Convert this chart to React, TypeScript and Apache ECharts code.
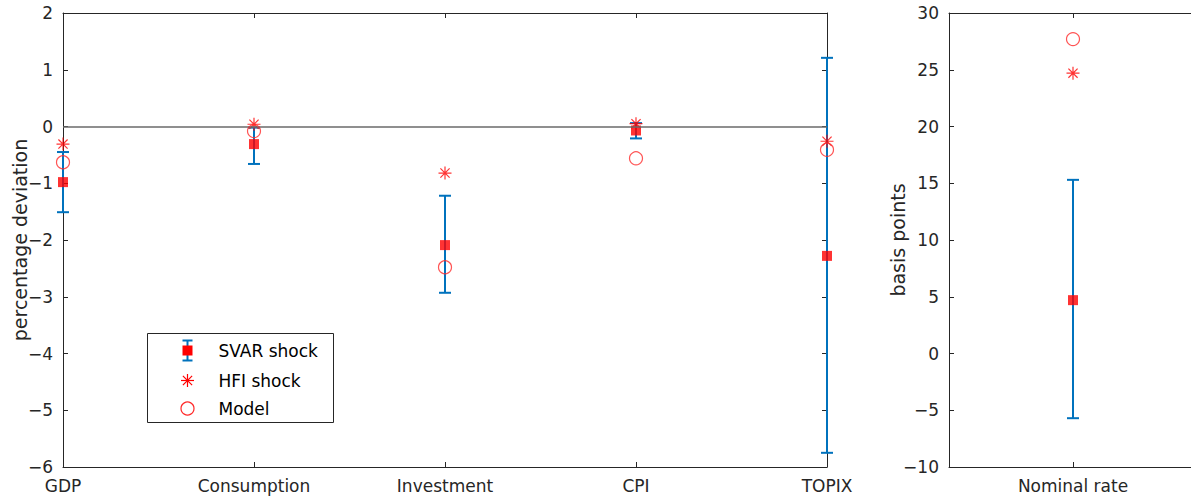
import React, { useEffect, useRef } from "react";
import * as echarts from "echarts";

const categories = ["GDP", "Consumption", "Investment", "CPI", "TOPIX"];
const svar = [-0.98, -0.31, -2.09, -0.07, -2.28];
const svarLow = [-1.51, -0.66, -2.93, -0.21, -5.75];
const svarHigh = [-0.45, -0.02, -1.22, 0.06, 1.21];
const hfi = [-0.31, 0.04, -0.82, 0.05, -0.26];
const model = [-0.63, -0.08, -2.48, -0.56, -0.41];

const rateCategories = ["Nominal rate"];
const rateSvar = [4.7];
const rateLow = [-5.7];
const rateHigh = [15.3];
const rateHfi = [24.7];
const rateModel = [27.7];

const FONT = "'DejaVu Sans', 'Noto Sans', sans-serif";
const AXIS = "#262626";
const BLUE = "#0072BD";
const RED = "#FF0000";
const STAR =
  "path://M0,-10L0,10M-10,0L10,0M-7.07,-7.07L7.07,7.07M-7.07,7.07L7.07,-7.07";

function errRender(params: any, api: any) {
  const x = api.value(0);
  const lo = api.coord([x, api.value(1)]);
  const hi = api.coord([x, api.value(2)]);
  const w = 6;
  const st = { stroke: BLUE, lineWidth: 2 };
  return {
    type: "group",
    children: [
      { type: "line", shape: { x1: lo[0], y1: lo[1], x2: hi[0], y2: hi[1] }, style: st },
      { type: "line", shape: { x1: lo[0] - w, y1: lo[1], x2: lo[0] + w, y2: lo[1] }, style: st },
      { type: "line", shape: { x1: hi[0] - w, y1: hi[1], x2: hi[0] + w, y2: hi[1] }, style: st },
    ],
  };
}

export default function App() {
  const ref = useRef<HTMLDivElement>(null);
  useEffect(() => {
    if (!ref.current) return;
    const chart = echarts.init(ref.current, null, { renderer: "svg" });
    const axisLine = { show: true, onZero: false, lineStyle: { color: AXIS, width: 1 } };
    const tick = { show: true, inside: true, length: 5, lineStyle: { color: AXIS } };
    const label = { color: AXIS, fontSize: 17, fontFamily: FONT };
    const nameStyle = { color: AXIS, fontSize: 19, fontFamily: FONT };
    const minus = (v: number) => String(v).replace("-", "\u2212");
    const leftX = (i: number) => i + 1;

    const option: any = {
      animation: false,
      textStyle: { fontFamily: FONT },
      grid: [
        { left: 63, top: 13, width: 764, height: 454, containLabel: false, outerBoundsMode: "none" },
        { left: 949, top: 13, width: 248, height: 454, containLabel: false, outerBoundsMode: "none" },
      ],
      xAxis: [
        {
          gridIndex: 0, type: "value", min: 1, max: 5, interval: 1, position: "bottom",
          axisLine, axisTick: tick, splitLine: { show: false },
          axisLabel: { ...label, margin: 10, showMinLabel: true, showMaxLabel: true,
            formatter: (v: number) => categories[Math.round(v) - 1] ?? "" },
        },
        {
          gridIndex: 0, type: "value", min: 1, max: 5, interval: 1, position: "top",
          axisLine, axisTick: tick, splitLine: { show: false }, axisLabel: { show: false },
        },
        {
          gridIndex: 1, type: "value", min: 0, max: 2, position: "bottom",
          axisLine, splitLine: { show: false },
          axisTick: { ...tick, customValues: [1] },
          axisLabel: { ...label, margin: 10, customValues: [1],
            formatter: (v: number) => (Math.round(v) === 1 ? rateCategories[0] : "") },
        },
        {
          gridIndex: 1, type: "value", min: 0, max: 2, position: "top",
          axisLine, splitLine: { show: false },
          axisTick: { ...tick, customValues: [1] }, axisLabel: { show: false },
        },
      ],
      yAxis: [
        {
          gridIndex: 0, type: "value", min: -6, max: 2, interval: 1, position: "left",
          axisLine, axisTick: tick, splitLine: { show: false },
          axisLabel: { ...label, margin: 10, formatter: minus },
          name: "percentage deviation", nameLocation: "middle", nameGap: 34,
          nameMoveOverlap: false,
          nameTextStyle: nameStyle,
        },
        {
          gridIndex: 0, type: "value", min: -6, max: 2, interval: 1, position: "right",
          axisLine, axisTick: tick, splitLine: { show: false }, axisLabel: { show: false },
        },
        {
          gridIndex: 1, type: "value", min: -10, max: 30, interval: 5, position: "left",
          axisLine, axisTick: tick, splitLine: { show: false },
          axisLabel: { ...label, margin: 10, formatter: minus },
          name: "basis points", nameLocation: "middle", nameGap: 42,
          nameMoveOverlap: false,
          nameTextStyle: nameStyle,
        },
      ],
      series: [
        {
          type: "custom", xAxisIndex: 0, yAxisIndex: 0, renderItem: errRender, z: 2,
          encode: { x: 0, y: [1, 2] },
          data: categories.map((_, i) => [leftX(i), svarLow[i], svarHigh[i]]),
          markLine: {
            silent: true, symbol: "none", label: { show: false },
            lineStyle: { color: "#6a6a6a", width: 1.5, type: "solid" },
            data: [{ yAxis: 0 }],
          },
        },
        {
          type: "scatter", xAxisIndex: 0, yAxisIndex: 0, symbol: "rect", symbolSize: 10, z: 3,
          itemStyle: { color: RED },
          data: svar.map((v, i) => [leftX(i), v]),
        },
        {
          type: "scatter", xAxisIndex: 0, yAxisIndex: 0, symbol: STAR, symbolSize: 13, z: 4,
          symbolKeepAspect: true,
          itemStyle: { color: "rgba(0,0,0,0)", borderColor: RED, borderWidth: 1.2 },
          data: hfi.map((v, i) => [leftX(i), v]),
        },
        {
          type: "scatter", xAxisIndex: 0, yAxisIndex: 0, symbol: "circle", symbolSize: 13, z: 5,
          itemStyle: { color: "rgba(0,0,0,0)", borderColor: "#ff2a2a", borderWidth: 1.2 },
          data: model.map((v, i) => [leftX(i), v]),
        },
        {
          type: "custom", xAxisIndex: 2, yAxisIndex: 2, renderItem: errRender, z: 2,
          encode: { x: 0, y: [1, 2] },
          data: rateCategories.map((_, i) => [i + 1, rateLow[i], rateHigh[i]]),
        },
        {
          type: "scatter", xAxisIndex: 2, yAxisIndex: 2, symbol: "rect", symbolSize: 10, z: 3,
          itemStyle: { color: RED },
          data: rateSvar.map((v, i) => [i + 1, v]),
        },
        {
          type: "scatter", xAxisIndex: 2, yAxisIndex: 2, symbol: STAR, symbolSize: 13, z: 4,
          symbolKeepAspect: true,
          itemStyle: { color: "rgba(0,0,0,0)", borderColor: RED, borderWidth: 1.2 },
          data: rateHfi.map((v, i) => [i + 1, v]),
        },
        {
          type: "scatter", xAxisIndex: 2, yAxisIndex: 2, symbol: "circle", symbolSize: 13, z: 5,
          itemStyle: { color: "rgba(0,0,0,0)", borderColor: "#ff2a2a", borderWidth: 1.2 },
          data: rateModel.map((v, i) => [i + 1, v]),
        },
      ],
      graphic: [
        {
          type: "group", left: 147, top: 333, z: 100,
          children: [
            { type: "rect", shape: { x: 0, y: 0, width: 186, height: 89 },
              style: { fill: "#fff", stroke: AXIS, lineWidth: 1 } },
            { type: "line", shape: { x1: 40, y1: 7, x2: 40, y2: 27 }, style: { stroke: BLUE, lineWidth: 2 } },
            { type: "line", shape: { x1: 35, y1: 7, x2: 45, y2: 7 }, style: { stroke: BLUE, lineWidth: 2 } },
            { type: "line", shape: { x1: 35, y1: 27, x2: 45, y2: 27 }, style: { stroke: BLUE, lineWidth: 2 } },
            { type: "rect", shape: { x: 35, y: 12, width: 10, height: 10 }, style: { fill: RED } },
            { type: "text", x: 71, y: 17, style: { text: "SVAR shock", fill: "#000", font: `17px ${FONT}`, verticalAlign: "middle" } },
            { type: "line", shape: { x1: 40, y1: 40.5, x2: 40, y2: 53.5 }, style: { stroke: RED, lineWidth: 1.2 } },
            { type: "line", shape: { x1: 33.5, y1: 47, x2: 46.5, y2: 47 }, style: { stroke: RED, lineWidth: 1.2 } },
            { type: "line", shape: { x1: 35.4, y1: 42.4, x2: 44.6, y2: 51.6 }, style: { stroke: RED, lineWidth: 1.2 } },
            { type: "line", shape: { x1: 35.4, y1: 51.6, x2: 44.6, y2: 42.4 }, style: { stroke: RED, lineWidth: 1.2 } },
            { type: "text", x: 71, y: 47, style: { text: "HFI shock", fill: "#000", font: `17px ${FONT}`, verticalAlign: "middle" } },
            { type: "circle", shape: { cx: 40, cy: 75, r: 6.5 }, style: { fill: "none", stroke: "#ff2a2a", lineWidth: 1.2 } },
            { type: "text", x: 71, y: 75, style: { text: "Model", fill: "#000", font: `17px ${FONT}`, verticalAlign: "middle" } },
          ],
        },
      ],
    };
    chart.setOption(option);
    return () => chart.dispose();
  }, []);
  return (
    <div
      ref={ref}
      style={{ position: "absolute", left: 0, top: 0, width: 1191, height: 500, background: "#fff" }}
    />
  );
}
